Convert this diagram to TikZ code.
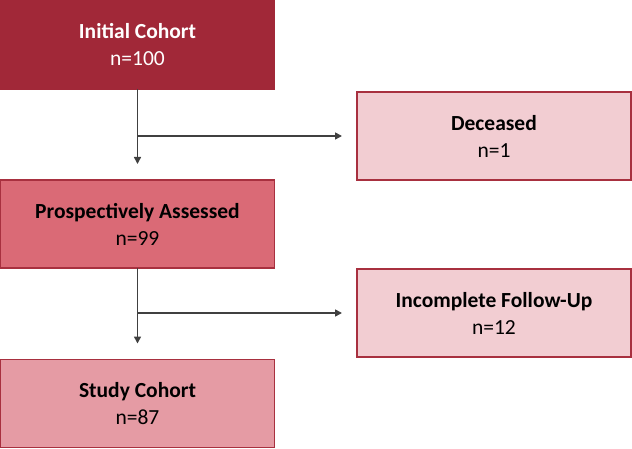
\documentclass[tikz,border=0pt]{standalone}
\usepackage{fontspec}
\setmainfont{Carlito}
\usetikzlibrary{arrows.meta}
\definecolor{darkred}{HTML}{A12838}
\definecolor{midred}{HTML}{DA6A76}
\definecolor{lightred}{HTML}{E59BA4}
\definecolor{palered}{HTML}{F2CDD2}
\definecolor{edgered}{HTML}{A8303F}
\definecolor{linegray}{HTML}{404040}
\tikzset{
  box/.style={rectangle, minimum width=274pt, minimum height=88pt, inner sep=0pt, outer sep=0pt,
    draw=edgered, line width=1.2pt, align=center, font=\fontsize{21.5}{27}\selectfont},
  conn/.style={draw=linegray, line width=1.6pt, -{Triangle[length=7pt,width=7pt]}}
}
\begin{document}
\begin{tikzpicture}[x=1pt,y=1pt]
\useasboundingbox (0,0) rectangle (632,-449);
\node[box, fill=darkred, draw=darkred, text=white] (init) at (137.5,-45) {\textbf{Initial Cohort}\\n=100};
\node[box, fill=palered] (dec) at (494,-136) {\textbf{Deceased}\\n=1};
\node[box, fill=midred] (pros) at (137.5,-224) {\textbf{Prospectively Assessed}\\n=99};
\node[box, fill=palered] (inc) at (494,-313) {\textbf{Incomplete Follow-Up}\\n=12};
\node[box, fill=lightred] (study) at (137.5,-403.5) {\textbf{Study Cohort}\\n=87};
\draw[conn, shorten >=16pt] (init.south) -- (pros.north);
\draw[conn, shorten >=15pt] (init.south |- dec.west) -- (dec.west);
\draw[conn, shorten >=16pt] (pros.south) -- (study.north);
\draw[conn, shorten >=15pt] (pros.south |- inc.west) -- (inc.west);
\end{tikzpicture}
\end{document}
